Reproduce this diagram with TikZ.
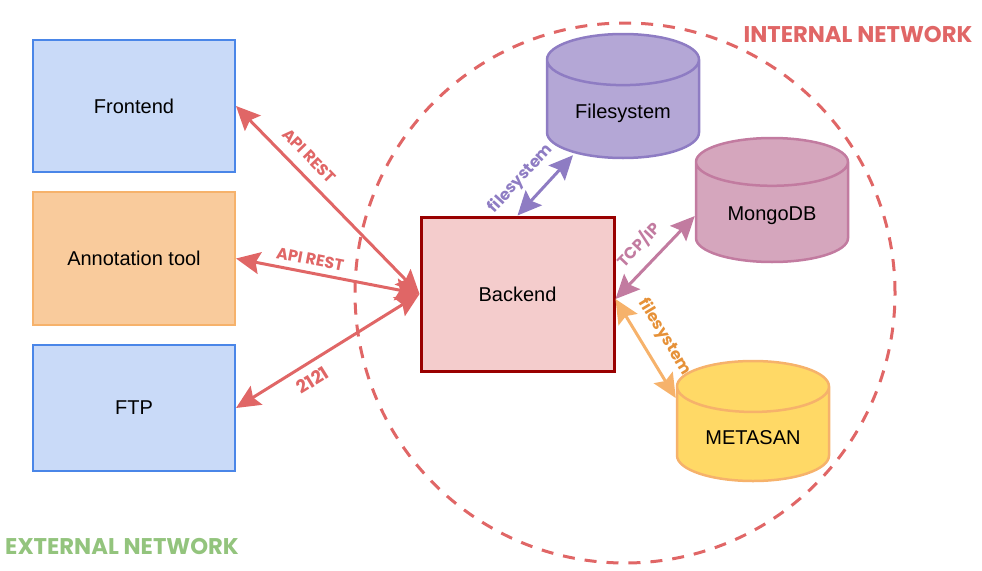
\documentclass[tikz,border=0pt]{standalone}
\usepackage{fontspec}
\setmainfont{Liberation Sans}
\newfontfamily\netfont{Poppins}
\usetikzlibrary{arrows.meta,shapes.geometric,calc}
\definecolor{netred}{HTML}{E06666}
\definecolor{netgreen}{HTML}{93C47D}
\definecolor{blueline}{HTML}{4A86E8}
\definecolor{bluefill}{HTML}{C9DAF8}
\definecolor{orangeline}{HTML}{F6B26B}
\definecolor{orangefill}{HTML}{F9CB9C}
\definecolor{orangetext}{HTML}{E69138}
\definecolor{backline}{HTML}{990000}
\definecolor{backfill}{HTML}{F4CCCC}
\definecolor{purpleline}{HTML}{8E7CC3}
\definecolor{purplefill}{HTML}{B4A7D6}
\definecolor{pinkline}{HTML}{C27BA0}
\definecolor{pinkfill}{HTML}{D5A6BD}
\definecolor{yellowfill}{HTML}{FFD966}
\tikzset{
    box/.style={draw, line width=2pt, minimum width=202pt, font=\fontsize{20}{24}\selectfont},
    bluebox/.style={box, draw=blueline, fill=bluefill},
    orangebox/.style={box, draw=orangeline, fill=orangefill},
    backbox/.style={box, draw=backline, fill=backfill, line width=3pt, minimum width=193pt, minimum height=154pt},
    db/.style={cylinder, shape border rotate=90, aspect=0.5, draw, line width=2.5pt, anchor=shape center,
        minimum width=152pt, minimum height=124pt, font=\fontsize{20}{24}\selectfont},
    link/.style={line width=3pt, {Stealth[length=24pt,width=22pt,inset=4pt]}-{Stealth[length=24pt,width=22pt,inset=4pt]}},
    redlink/.style={link, draw=netred},
    linklabel/.style={sloped, font=\netfont\bfseries\fontsize{16}{19}\selectfont},
    netlabel/.style={font=\netfont\bfseries\fontsize{22.7}{26}\selectfont},
    netborder/.style={draw=netred, line width=3pt, dash pattern=on 12pt off 10pt},
}
\begin{document}
\begin{tikzpicture}[x=1pt, y=-1pt]
	\useasboundingbox (0,0) rectangle (982,570);
	\draw[netborder] (625,293) circle [radius=270pt];
	\node[netlabel, text=netred] (internal) at (858,34) {INTERNAL NETWORK};
	\node[netlabel, text=netgreen] (external) at (122,546) {EXTERNAL NETWORK};
	% external side
	\node[bluebox, minimum height=132pt] (frontend) at (134,106) {Frontend};
	\node[orangebox, minimum height=133pt] (annotation) at (134,258.5) {Annotation tool};
	\node[bluebox, minimum height=126pt] (ftp) at (134,408) {FTP};
	% internal side
	\node[backbox] (backend) at (517.5,294) {Backend};
	\node[db, draw=purpleline, fill=purplefill] (filesystem) at (623,96) {Filesystem};
	\node[db, draw=pinkline, fill=pinkfill] (mongodb) at (772,200) {MongoDB};
	\node[db, draw=orangeline, fill=yellowfill, minimum height=120pt] (metasan) at (753,421) {METASAN};
	\draw[redlink] (frontend.east) -- node[linklabel, text=netred, above=7pt, pos=0.33] {API REST} (backend.west);
	\draw[redlink] (annotation.east) -- node[linklabel, text=netred, above=3pt, pos=0.39] {API REST} (backend.west);
	\draw[redlink] (ftp.east) -- node[linklabel, text=netred, below=5pt, pos=0.37, font=\netfont\bfseries\fontsize{18}{21}\selectfont] {2121} (backend.west);
	\draw[link, draw=purpleline] (backend.north) -- node[linklabel, text=purpleline, above=9pt, pos=0.36] {filesystem} ($(filesystem.south)+(-50,-4)$);
	\draw[link, draw=pinkline] ($(backend.east)+(0,5)$) -- node[linklabel, text=pinkline, above=7pt, pos=0.48] {TCP/IP} (mongodb.west);
	\draw[link, draw=orangeline] ($(backend.east)+(0,5)$) -- node[linklabel, text=orangetext, above=9pt, pos=0.5] {filesystem} ($(metasan.west)+(0,-40)$);
\end{tikzpicture}
\end{document}
